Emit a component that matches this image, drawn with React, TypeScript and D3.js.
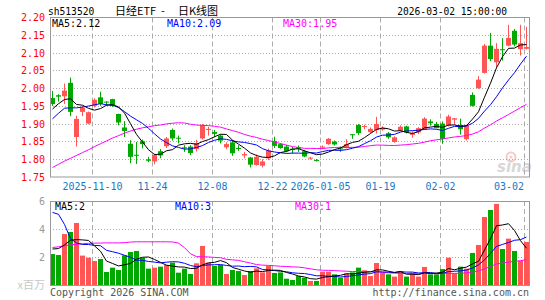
import React from "react";
import * as d3 from "d3";

const dates = [
  "2025-10-30","2025-10-31","2025-11-03","2025-11-04","2025-11-05","2025-11-06","2025-11-07",
  "2025-11-10","2025-11-11","2025-11-12","2025-11-13","2025-11-14",
  "2025-11-17","2025-11-18","2025-11-19","2025-11-20","2025-11-21",
  "2025-11-24","2025-11-25","2025-11-26","2025-11-27","2025-11-28",
  "2025-12-01","2025-12-02","2025-12-03","2025-12-04","2025-12-05",
  "2025-12-08","2025-12-09","2025-12-10","2025-12-11","2025-12-12",
  "2025-12-15","2025-12-16","2025-12-17","2025-12-18","2025-12-19",
  "2025-12-22","2025-12-23","2025-12-24","2025-12-25","2025-12-26",
  "2025-12-29","2025-12-30","2025-12-31",
  "2026-01-05","2026-01-06","2026-01-07","2026-01-08","2026-01-09",
  "2026-01-12","2026-01-13","2026-01-14","2026-01-15","2026-01-16",
  "2026-01-19","2026-01-20","2026-01-21","2026-01-22","2026-01-23",
  "2026-01-26","2026-01-27","2026-01-28","2026-01-29","2026-01-30",
  "2026-02-02","2026-02-03","2026-02-04","2026-02-05","2026-02-06",
  "2026-02-09","2026-02-10","2026-02-11","2026-02-12","2026-02-13",
  "2026-02-24","2026-02-25","2026-02-26","2026-02-27","2026-03-02",
];

const openP = [
  1.972,1.980,1.977,2.015,1.862,1.933,1.900,1.950,1.974,1.962,
  1.969,1.927,1.889,1.843,1.812,1.850,1.799,1.793,1.822,1.836,
  1.882,1.860,1.833,1.835,1.828,1.858,1.882,1.876,1.866,1.833,
  1.847,1.831,1.810,1.804,1.783,1.781,1.802,1.851,1.842,1.835,
  1.829,1.833,1.822,1.801,1.797,1.832,1.842,1.849,1.830,1.831,
  1.870,1.896,1.890,1.876,1.882,1.883,1.873,1.848,1.880,1.892,
  1.868,1.875,1.884,1.906,1.899,1.900,1.894,1.911,1.896,1.856,
  1.981,2.000,2.043,2.120,2.073,2.110,2.120,2.162,2.110,2.111,
];
const highP = [
  1.992,1.983,2.013,2.030,1.922,1.950,1.934,1.971,1.990,1.963,
  1.970,1.928,1.907,1.853,1.848,1.855,1.806,1.815,1.828,1.862,
  1.886,1.866,1.839,1.839,1.854,1.899,1.891,1.882,1.870,1.847,
  1.853,1.839,1.820,1.806,1.813,1.799,1.829,1.863,1.845,1.840,
  1.834,1.838,1.826,1.806,1.800,1.838,1.859,1.852,1.835,1.856,
  1.870,1.899,1.897,1.889,1.919,1.892,1.876,1.864,1.895,1.894,
  1.878,1.890,1.918,1.912,1.905,1.906,1.925,1.916,1.914,1.897,
  1.988,2.034,2.125,2.156,2.127,2.141,2.179,2.167,2.179,2.173,
];
const lowP = [
  1.950,1.962,1.955,1.921,1.835,1.921,1.898,1.946,1.950,1.950,
  1.947,1.895,1.862,1.788,1.786,1.830,1.791,1.785,1.802,1.831,
  1.852,1.844,1.820,1.811,1.821,1.855,1.866,1.861,1.844,1.828,
  1.809,1.823,1.802,1.776,1.781,1.776,1.797,1.831,1.829,1.819,
  1.815,1.820,1.805,1.798,1.793,1.828,1.840,1.838,1.820,1.830,
  1.857,1.868,1.884,1.873,1.872,1.880,1.857,1.846,1.878,1.872,
  1.860,1.870,1.882,1.894,1.887,1.843,1.892,1.897,1.869,1.852,
  1.948,1.998,2.041,2.076,2.057,2.078,2.118,2.118,2.092,2.109,
];
const closeP = [
  1.955,1.976,1.993,1.933,1.913,1.944,1.932,1.967,1.956,1.960,
  1.950,1.903,1.879,1.806,1.809,1.842,1.795,1.811,1.810,1.858,
  1.858,1.858,1.830,1.817,1.845,1.896,1.885,1.871,1.852,1.842,
  1.816,1.829,1.814,1.784,1.806,1.793,1.824,1.837,1.831,1.822,
  1.826,1.829,1.807,1.804,1.795,1.835,1.857,1.841,1.827,1.842,
  1.867,1.873,1.893,1.885,1.899,1.888,1.861,1.861,1.891,1.875,
  1.873,1.887,1.914,1.901,1.887,1.857,1.920,1.915,1.884,1.894,
  1.950,2.024,2.120,2.082,2.111,2.107,2.142,2.123,2.127,2.116,
];
// volume, millions of shares
const volume = [
  2.21,2.14,3.64,3.79,4.43,2.10,1.95,1.71,1.86,0.93,
  1.24,1.07,2.12,2.36,2.43,1.93,1.17,1.24,1.31,1.43,
  1.60,0.88,1.17,0.79,1.55,2.79,1.60,1.36,1.43,0.79,
  1.07,1.00,0.71,1.00,1.19,0.90,1.36,0.86,0.90,0.45,
  0.36,0.64,0.52,0.29,0.29,0.95,0.95,0.76,0.52,0.83,
  0.90,1.24,1.05,0.64,1.57,0.88,0.76,0.60,1.00,0.60,
  0.88,0.60,1.29,0.76,0.76,1.14,1.95,0.83,1.31,1.17,
  2.29,2.86,4.86,5.36,5.79,2.57,3.31,2.43,1.74,3.07,
];
// sessions before the visible window (needed for the moving averages)
const priorClose = [
  1.706,1.723,1.693,1.673,1.704,1.692,1.697,1.716,1.720,1.710,
  1.693,1.669,1.626,1.659,1.722,1.705,1.721,1.750,1.768,1.798,
  1.820,1.850,1.923,1.913,1.924,1.901,1.933,1.923,1.993,
];
const priorVolume = [
  0.60,1.30,1.99,3.23,0.90,1.05,1.41,1.56,0.63,1.24,
  1.07,1.52,1.16,1.83,1.93,1.17,1.24,1.31,1.43,1.90,
  3.50,10.90,13.90,7.50,3.20,1.99,2.34,2.09,4.23,
];

const priceTicks = [2.2, 2.15, 2.1, 2.05, 2.0, 1.95, 1.9, 1.85, 1.8, 1.75];
const volumeTicks = [6, 4, 2];
const labelDates = ["2025-11-10","2025-11-24","2025-12-08","2025-12-22","2026-01-05","2026-01-19","2026-02-02","2026-03-02"];

const UP = "#ff5555";
const DOWN = "#00a800";
const MONO = "'DejaVu Sans Mono', monospace";
const CJK = "'Noto Sans CJK SC', sans-serif";

function movingAvg(prior: number[], values: number[], n: number) {
  const all = prior.concat(values);
  const off = prior.length;
  return values.map((_, i) => d3.mean(all.slice(off + i - n + 1, off + i + 1)) as number);
}

export default function App() {
  const L = 50, R = 530;
  const pTop = 17.5, pBot = 177;
  const vTop = 201, vBot = 285;

  const x = d3.scaleBand<string>().domain(dates).range([L, R]).paddingInner(1 / 6).paddingOuter(1 / 12);
  const y = d3.scaleLinear().domain([1.75, 2.2]).range([176.7, 17.3]);
  const yv = d3.scaleLinear().domain([0, 6]).range([vBot, vTop]);

  const left = (d: string) => Math.floor(x(d) as number);
  const cx = (d: string) => left(d) + 2.5;

  const ma5 = movingAvg(priorClose, closeP, 5);
  const ma10 = movingAvg(priorClose, closeP, 10);
  const ma30 = movingAvg(priorClose, closeP, 30);
  const vma5 = movingAvg(priorVolume, volume, 5);
  const vma10 = movingAvg(priorVolume, volume, 10);
  const vma30 = movingAvg(priorVolume, volume, 30);

  const linePrice = d3.line<number>().x((_, i) => cx(dates[i])).y((v) => y(v));
  const lineVol = d3.line<number>().x((_, i) => cx(dates[i])).y((v) => yv(v));

  const last = closeP.length - 1;
  const fmt2 = d3.format(".2f");

  return (
    <svg width={545} height={300} style={{ display: "block", position: "absolute", left: 0, top: 0 }}>
      <rect x={0} y={0} width={545} height={300} fill="#fff" />
      {/* header */}
      <text x={48} y={15} fontFamily={MONO} fontSize={9.6} fill="#000">sh513520</text>
      <text x={115} y={15} fontFamily={CJK} fontSize={11} fill="#000">日经ETF</text>
      <text x={161} y={15} fontFamily={CJK} fontSize={11} fill="#000">-</text>
      <text x={178} y={15} fontFamily={CJK} fontSize={11} fill="#000">日K线图</text>
      <text x={507} y={15} textAnchor="end" fontFamily={MONO} fontSize={9.6} fill="#000">2026-03-02 15:00:00</text>

      {/* price grid */}
      {priceTicks.slice(1, -1).map((t) => (
        <line key={"hg" + t} x1={L} x2={R} y1={Math.round(y(t)) + 0.5} y2={Math.round(y(t)) + 0.5}
          stroke="#aaa" strokeDasharray="1,2" />
      ))}
      {labelDates.map((d) => (
        <line key={"vg" + d} x1={left(d) + 0.5} x2={left(d) + 0.5} y1={pTop} y2={pBot} stroke="#aaa" strokeDasharray="5,3" />
      ))}
      {priceTicks.map((t) => (
        <text key={"pt" + t} x={45} y={y(t) + 4} textAnchor="end" fontFamily={MONO} fontSize={10} fill="#ff0000">
          {fmt2(t)}
        </text>
      ))}

      {/* watermark */}
      <g opacity={0.55}>
        <circle cx={511} cy={157} r={4.5} fill="none" stroke="#f2a0a0" strokeWidth={2} />
        <circle cx={511} cy={157} r={1.5} fill="#f2a0a0" />
        <text x={497} y={172} fontFamily="Verdana, 'DejaVu Sans', sans-serif" fontStyle="italic" fontWeight="bold" fontSize={15} fill="#b8b8b8">sina</text>
      </g>

      {/* candles */}
      {dates.map((d, i) => {
        const up = closeP[i] >= openP[i];
        const c = up ? UP : DOWN;
        const yTop = y(Math.max(openP[i], closeP[i]));
        const yB = y(Math.min(openP[i], closeP[i]));
        return (
          <g key={"c" + d}>
            <line x1={cx(d)} x2={cx(d)} y1={y(highP[i])} y2={y(lowP[i])} stroke={c} strokeWidth={1} />
            <rect x={left(d)} y={yTop} width={5} height={Math.max(1, yB - yTop)} fill={c} />
          </g>
        );
      })}
      <path d={linePrice(ma30) as string} fill="none" stroke="#ff00ff" strokeWidth={1} />
      <path d={linePrice(ma10) as string} fill="none" stroke="#0000ff" strokeWidth={1} />
      <path d={linePrice(ma5) as string} fill="none" stroke="#000" strokeWidth={1} />
      <rect x={L + 0.5} y={pTop} width={R - L - 1} height={pBot - pTop} fill="none" stroke="#999" />
      <text x={52} y={27} fontFamily={MONO} fontSize={10} fill="#000">MA5:{fmt2(ma5[last])}</text>
      <text x={167} y={27} fontFamily={MONO} fontSize={10} fill="#0000ff">MA10:{fmt2(ma10[last])}</text>
      <text x={283} y={27} fontFamily={MONO} fontSize={10} fill="#ff00ff">MA30:{fmt2(ma30[last])}</text>

      {/* date labels */}
      {labelDates.map((d, k) => {
        const full = k === 0 || labelDates[k - 1].slice(0, 4) !== d.slice(0, 4);
        const label = full ? d : d.slice(5);
        const w = label.length * 6.02;
        let xc = left(d) + 0.5;
        if (xc + w / 2 > R - 6) xc = R - 6 - w / 2;
        return (
          <text key={"dl" + d} x={xc} y={190} textAnchor="middle" fontFamily={MONO} fontSize={10} fill="#1878c8">
            {label}
          </text>
        );
      })}

      {/* volume grid */}
      {volumeTicks.slice(1).map((t) => (
        <line key={"vh" + t} x1={L} x2={R} y1={Math.round(yv(t)) + 0.5} y2={Math.round(yv(t)) + 0.5}
          stroke="#aaa" strokeDasharray="1,2" />
      ))}
      {labelDates.map((d) => (
        <line key={"vv" + d} x1={left(d) + 0.5} x2={left(d) + 0.5} y1={vTop} y2={vBot} stroke="#aaa" strokeDasharray="5,3" />
      ))}
      {volumeTicks.map((t) => (
        <text key={"vt" + t} x={45} y={yv(t) + 4} textAnchor="end" fontFamily={MONO} fontSize={10} fill="#999">{t}</text>
      ))}
      <text x={45} y={289} textAnchor="end" fontFamily={CJK} fontSize={11} fill="#c8c8c8">x百万</text>

      {dates.map((d, i) => {
        const up = closeP[i] >= openP[i];
        return (
          <rect key={"v" + d} x={left(d)} y={yv(volume[i])} width={5} height={vBot - yv(volume[i])} fill={up ? UP : DOWN} />
        );
      })}
      <path d={lineVol(vma30) as string} fill="none" stroke="#ff00ff" strokeWidth={1} />
      <path d={lineVol(vma10) as string} fill="none" stroke="#0000ff" strokeWidth={1} />
      <path d={lineVol(vma5) as string} fill="none" stroke="#000" strokeWidth={1} />
      <rect x={L + 0.5} y={vTop + 0.5} width={R - L - 1} height={vBot - vTop} fill="none" stroke="#999" />
      <text x={55} y={210} fontFamily={MONO} fontSize={10} fill="#000">MA5:{Math.floor(vma5[last])}</text>
      <text x={175} y={210} fontFamily={MONO} fontSize={10} fill="#0000ff">MA10:{Math.floor(vma10[last])}</text>
      <text x={295} y={210} fontFamily={MONO} fontSize={10} fill="#ff00ff">MA30:{Math.floor(vma30[last])}</text>

      {/* footer */}
      <text x={50} y={296} fontFamily={MONO} fontSize={10} fill="#555">Copyright 2026 SINA.COM</text>
      <text x={529} y={296} textAnchor="end" fontFamily={MONO} fontSize={10} fill="#555">http://finance.sina.com.cn</text>
    </svg>
  );
}
